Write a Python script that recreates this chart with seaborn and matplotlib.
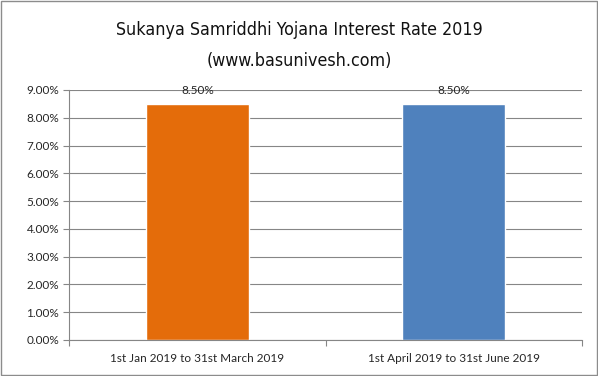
import matplotlib
matplotlib.use("Agg")
import matplotlib.pyplot as plt
import seaborn as sns
import pandas as pd
from matplotlib.ticker import FuncFormatter, FixedLocator
from matplotlib.patches import Rectangle

categories = ["1st Jan 2019 to 31st March 2019", "1st April 2019 to 31st June 2019"]
rates = [8.50, 8.50]
bar_labels = ["8.50%", "8.50%"]
colors = ["#E46C0A", "#4F81BD"]
title_line1 = "Sukanya Samriddhi Yojana Interest Rate 2019"
title_line2 = "(www.basunivesh.com)"

sns.set_theme(style="white")
plt.rcParams['font.family'] = ['Lato', 'DejaVu Sans']

df = pd.DataFrame({"period": categories, "rate": rates})

fig = plt.figure(figsize=(5.98, 3.76), dpi=100)
ax = fig.add_axes([69/598, 36/376, 513/598, 250/376])

sns.barplot(data=df, x="period", y="rate", hue="period", palette=colors,
            width=0.4, legend=False, ax=ax, saturation=1)

ax.set_ylim(0, 9)
ax.set_xlim(-0.5, 1.5)
ax.set_yticks([i for i in range(10)])
ax.yaxis.set_major_formatter(FuncFormatter(lambda v, p: f"{v:.2f}%"))
ax.grid(axis="y", color="#868686", linewidth=0.8)
ax.set_axisbelow(True)
for s in ["top", "right"]:
    ax.spines[s].set_visible(False)
for s in ["left", "bottom"]:
    ax.spines[s].set_color("#868686")
    ax.spines[s].set_linewidth(0.8)
ax.set_xlabel("")
ax.set_ylabel("")
ax.tick_params(axis="y", length=4, color="#868686", width=0.8, labelsize=8.5,
               labelcolor="#262626", pad=3, left=True)
ax.tick_params(axis="x", length=0, labelsize=8.5, labelcolor="#262626", pad=9)
ax.xaxis.set_minor_locator(FixedLocator([-0.5, 0.5, 1.5]))
ax.tick_params(axis="x", which="minor", length=4, color="#868686", width=0.8, bottom=True)

for i, (v, lab) in enumerate(zip(rates, bar_labels)):
    ax.annotate(lab, (i, v), xytext=(0, 6), textcoords="offset points",
                ha="center", va="bottom", fontsize=8.5, color="#262626")

fig.text(0.5, 1 - 30/376, title_line1, ha="center", va="center",
         fontsize=12.8, fontstretch="condensed",
         family=['Liberation Sans Narrow', 'DejaVu Sans'], color="#111111")
fig.text(0.5, 1 - 61/376, title_line2, ha="center", va="center",
         fontsize=12.8, fontstretch="condensed",
         family=['Liberation Sans Narrow', 'DejaVu Sans'], color="#111111")

fig.patches.append(Rectangle((1/598, 1/376), 596/598, 374/376, transform=fig.transFigure,
                             fill=False, edgecolor="#8c8c8c", linewidth=1))

fig.savefig("out.png", dpi=100)
